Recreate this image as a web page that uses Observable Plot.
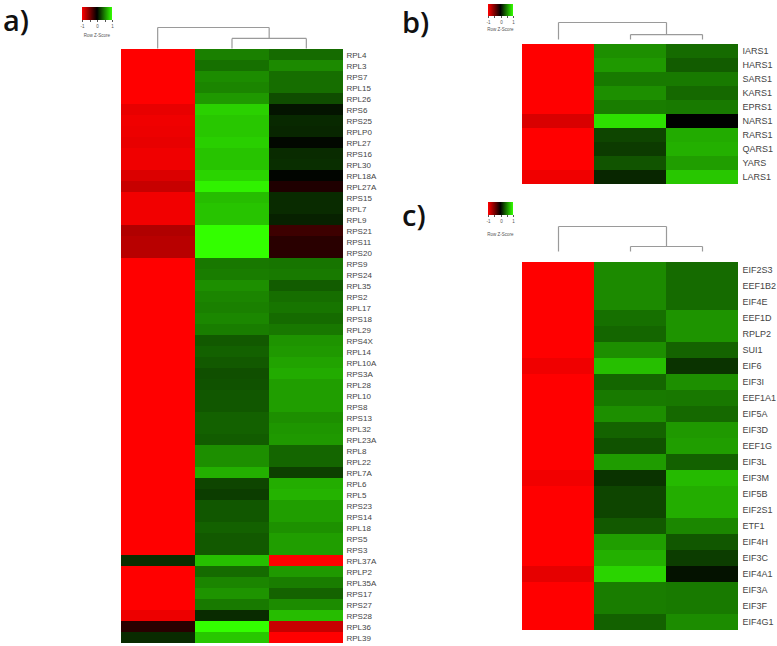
<!DOCTYPE html>
<html><head><meta charset="utf-8">
<script src="https://cdn.jsdelivr.net/npm/d3@7"></script>
<script src="https://cdn.jsdelivr.net/npm/@observablehq/plot@0.6"></script>
<style>
body{margin:0;background:#fff;}
#fig{position:relative;width:777px;height:646px;overflow:hidden;background:#fff;font-family:"Liberation Sans",Arial,sans-serif;}
.tag{position:absolute;font-family:"Open Sans",sans-serif;font-weight:600;font-size:29px;line-height:normal;color:#111;white-space:nowrap;padding:0 3px;}
.zlab{position:absolute;font-size:4.5px;line-height:5px;color:#555;white-space:nowrap;text-align:center;}
</style></head><body><div id="fig"></div>
<script>
// ---------- data ----------
const samples = ["S1", "S2", "S3"];
const zTicks = [-1, -0.5, 0, 0.5, 1];

const aGenes = ["RPL4","RPL3","RPS7","RPL15","RPL26","RPS6","RPS25","RPLP0","RPL27","RPS16",
  "RPL30","RPL18A","RPL27A","RPS15","RPL7","RPL9","RPS21","RPS11","RPS20","RPS9",
  "RPS24","RPL35","RPS2","RPL17","RPS18","RPL29","RPS4X","RPL14","RPL10A","RPS3A",
  "RPL28","RPL10","RPS8","RPS13","RPL32","RPL23A","RPL8","RPL22","RPL7A","RPL6",
  "RPL5","RPS23","RPS14","RPL18","RPS5","RPS3","RPL37A","RPLP2","RPL35A","RPS17",
  "RPS27","RPS28","RPL36","RPL39"];
const aSample1 = [-1,-1,-1,-1,-1,-0.91,-0.94,-0.93,-0.91,-0.94,
  -0.94,-0.86,-0.78,-0.95,-0.95,-0.95,-0.69,-0.72,-0.72,-1,
  -1,-1,-1,-1,-1,-1,-1,-1,-1,-1,
  -1,-1,-1,-1,-1,-1,-1,-1,-1,-1,
  -1,-1,-1,-1,-1,-1,0.18,-1,-1,-1,
  -1,-0.93,-0.16,0.17];
const aSample2 = [0.5,0.44,0.55,0.52,0.6,0.82,0.78,0.78,0.81,0.77,
  0.77,0.83,0.95,0.74,0.77,0.77,1,1,1,0.47,
  0.49,0.56,0.52,0.5,0.53,0.49,0.35,0.38,0.35,0.31,
  0.32,0.34,0.34,0.38,0.38,0.36,0.56,0.56,0.69,0.27,
  0.24,0.34,0.34,0.38,0.35,0.35,0.75,0.42,0.52,0.58,
  0.48,0.17,1,0.78];
const aSample3 = [0.42,0.54,0.43,0.43,0.3,0.08,0.16,0.15,0.03,0.17,
  0.18,0.02,-0.12,0.17,0.17,0.13,-0.24,-0.16,-0.16,0.46,
  0.48,0.36,0.43,0.46,0.42,0.47,0.58,0.6,0.64,0.67,
  0.62,0.62,0.62,0.56,0.59,0.6,0.4,0.4,0.25,0.68,
  0.7,0.62,0.62,0.57,0.62,0.62,-1,0.6,0.49,0.39,
  0.55,0.74,-0.78,-1];
const aDendro = [0.48, 1];   // merge heights: (S2,S3), root

const bGenes = ["IARS1","HARS1","SARS1","KARS1","EPRS1","NARS1","RARS1","QARS1","YARS","LARS1"];
const bSample1 = [-1,-1,-1,-1,-1,-0.85,-1,-1,-1,-0.94];
const bSample2 = [0.56,0.6,0.48,0.56,0.49,0.88,0.27,0.23,0.33,0.15];
const bSample3 = [0.42,0.36,0.48,0.41,0.48,0,0.67,0.69,0.62,0.78];
const bDendro = [0.29, 1];

const cGenes = ["EIF2S3","EEF1B2","EIF4E","EEF1D","RPLP2","SUI1","EIF6","EIF3I","EEF1A1","EIF5A",
  "EIF3D","EEF1G","EIF3L","EIF3M","EIF5B","EIF2S1","ETF1","EIF4H","EIF3C","EIF4A1",
  "EIF3A","EIF3F","EIF4G1"];
const cSample1 = [-1,-1,-1,-1,-1,-1,-0.94,-1,-1,-1,-1,-1,-1,-0.95,-1,-1,-1,-1,-1,-0.9,-1,-1,-1];
const cSample2 = [0.54,0.54,0.54,0.44,0.4,0.56,0.75,0.4,0.48,0.56,0.39,0.32,0.61,0.2,0.27,0.27,0.35,0.62,0.69,0.83,0.49,0.49,0.38];
const cSample3 = [0.42,0.42,0.42,0.58,0.58,0.39,0.2,0.56,0.47,0.41,0.6,0.62,0.38,0.73,0.68,0.68,0.53,0.34,0.24,0.07,0.48,0.48,0.55];
const cDendro = [0.2, 1];

// ---------- drawing ----------
const fig = document.getElementById("fig");
const colorOpts = {type: "linear", domain: [-1, 0, 1], range: ["#ff0000", "#000000", "#33ff00"], interpolate: "rgb", clamp: true};

function place(node, left, top) {
  node.style.position = "absolute";
  node.style.left = left + "px";
  node.style.top = top + "px";
  fig.appendChild(node);
}

function heatmap(genes, s1, s2, s3, width, height, fontSize, pad) {
  const cols = [s1, s2, s3];
  const data = genes.flatMap((g, i) => samples.map((s, j) => ({gene: g, sample: s, z: cols[j][i]})));
  const right = 60;
  return Plot.plot({
    width: width + right, height,
    marginLeft: 0, marginRight: right, marginTop: 0, marginBottom: 0,
    x: {domain: samples, axis: null, padding: 0},
    y: {domain: genes, axis: "right", padding: 0, tickSize: 0, tickPadding: pad, label: null},
    color: colorOpts,
    style: {fontSize: fontSize + "px", fontFamily: "'Liberation Sans', Arial, sans-serif", color: "#444", background: "transparent", overflow: "visible"},
    marks: [Plot.cell(data, {x: "sample", y: "gene", fill: "z", inset: 0, shapeRendering: "crispEdges"})]
  });
}

function dendro(heights, width, height) {
  const [h1, h2] = heights;
  const leaf = samples.map((s, i) => i + 0.5);
  const mid = (leaf[1] + leaf[2]) / 2;
  const segs = [
    {x1: leaf[1], y1: 0, x2: leaf[1], y2: h1},
    {x1: leaf[2], y1: 0, x2: leaf[2], y2: h1},
    {x1: leaf[1], y1: h1, x2: leaf[2], y2: h1},
    {x1: leaf[0], y1: 0, x2: leaf[0], y2: h2},
    {x1: mid, y1: h1, x2: mid, y2: h2},
    {x1: leaf[0], y1: h2, x2: mid, y2: h2}
  ];
  return Plot.plot({
    width, height: height + 1,
    marginLeft: 0, marginRight: 0, marginTop: 1, marginBottom: 0,
    x: {domain: [0, 3], axis: null},
    y: {domain: [0, 1], axis: null},
    style: {background: "transparent", overflow: "visible"},
    marks: [Plot.link(segs, {x1: "x1", y1: "y1", x2: "x2", y2: "y2", stroke: "#9a9a9a", strokeWidth: 1.2})]
  });
}

function zLegend(left, top, w, h, labelGap) {
  const leg = Plot.legend({
    color: colorOpts, width: w + 4, height: h + 9,
    marginLeft: 2, marginRight: 2, marginTop: 0, marginBottom: 9,
    tickSize: 2, ticks: zTicks, tickFormat: d => (Number.isInteger(d) ? String(d) : ""),
    label: null,
    style: {fontSize: "4.5px", fontFamily: "'Liberation Sans', Arial, sans-serif", color: "#555", background: "transparent", overflow: "visible"}
  });
  d3.select(leg).selectAll(".tick line").attr("y1", 0);
  place(leg, left - 2, top);
  const t = document.createElement("div");
  t.className = "zlab";
  t.textContent = "Row Z-Score";
  t.style.width = (w + 8) + "px";
  place(t, left - 4, top + h + labelGap);
}

function tag(text, left, top) {
  const d = document.createElement("div");
  d.className = "tag";
  d.textContent = text;
  place(d, left, top);
}

// panel a
tag("a)", 0, 0);
zLegend(82, 7, 30, 13, 13);
place(dendro(aDendro, 223, 21), 120, 26);
place(heatmap(aGenes, aSample1, aSample2, aSample3, 223, 596, 8, 3), 120, 48);

// panel b
tag("b)", 399, 2);
zLegend(488, 4, 25, 12, 11);
place(dendro(bDendro, 216, 17), 522, 21);
place(heatmap(bGenes, bSample1, bSample2, bSample3, 216, 149, 9, 4), 522, 39);

// panel c
tag("c)", 399, 195);
zLegend(488, 202, 25, 13, 17);
place(dendro(cDendro, 216, 25), 522, 225);
place(heatmap(cGenes, cSample1, cSample2, cSample3, 216, 389, 9, 4), 522, 251);
</script></body></html>
